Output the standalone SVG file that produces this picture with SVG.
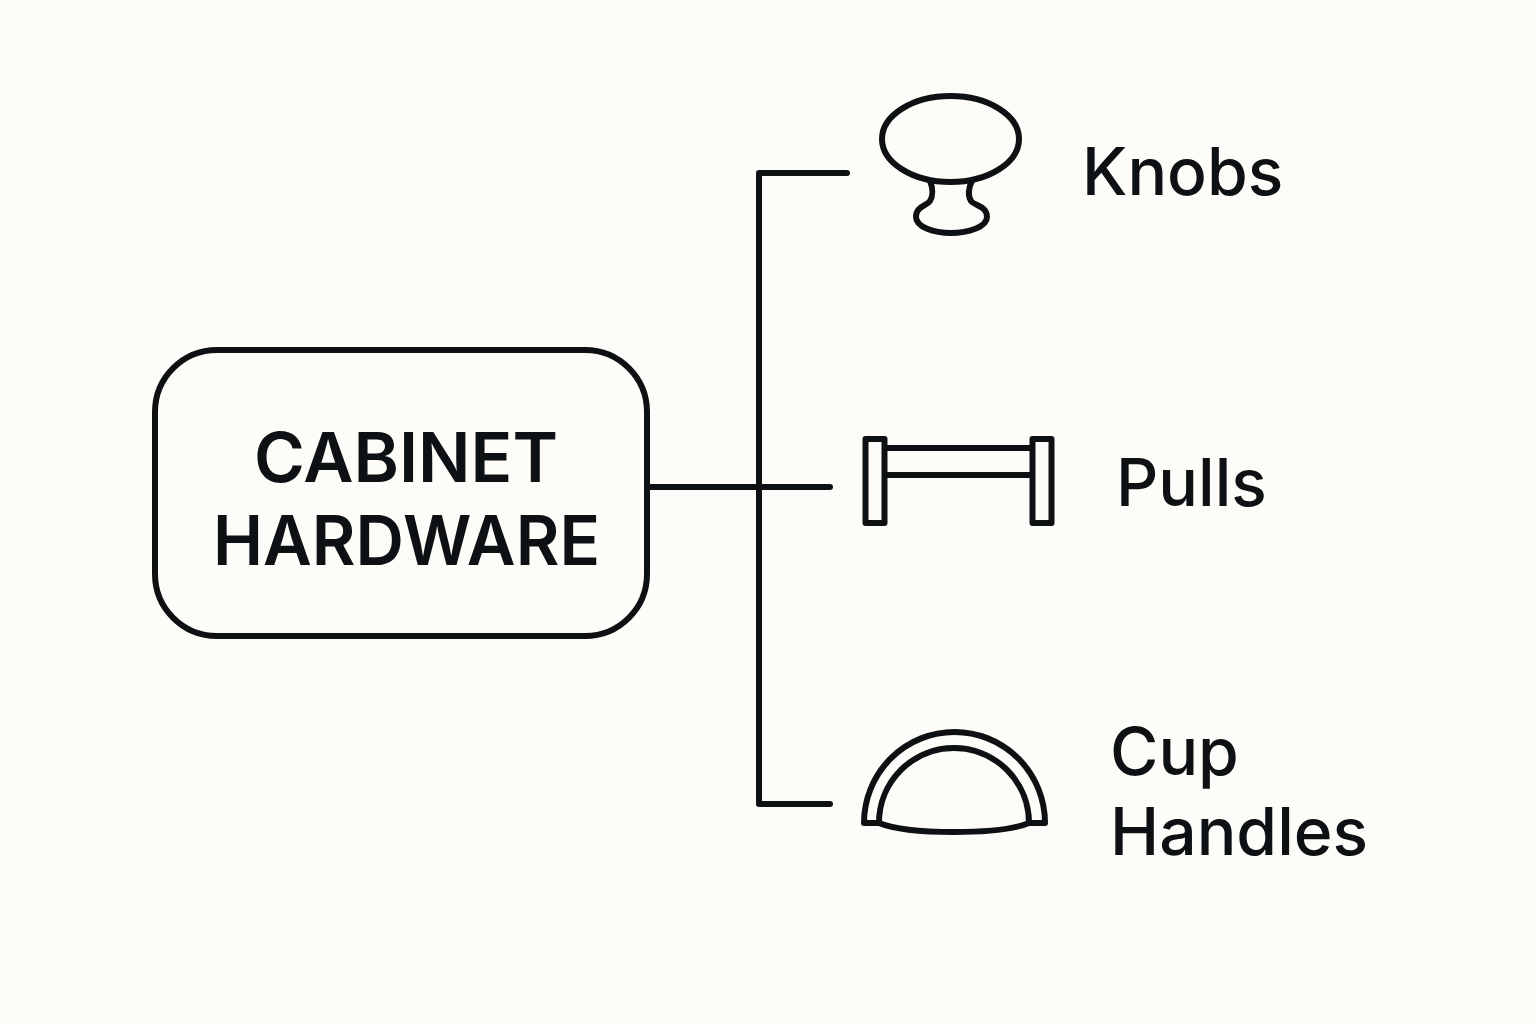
<svg xmlns="http://www.w3.org/2000/svg" width="1536" height="1024" viewBox="0 0 1536 1024">
<style>
.l{fill:none;stroke:#0e1113;stroke-width:6;stroke-linecap:round;stroke-linejoin:round}
.t{font-family:Inter,"Liberation Sans",sans-serif;font-weight:600;fill:#0e1113;stroke:none}
.h{font-size:69px;text-anchor:middle}
.s{font-size:66px;font-weight:500}
</style>
<rect width="1536" height="1024" fill="#fefcf8"/>
<g id="connectors">
<path class="l" d="M650 487H830M847 173H759V804H830"/>
</g>
<g id="root"><rect class="l" x="155" y="350" width="492" height="286" rx="62"/>
<text class="t h" x="406" y="482" textLength="304" lengthAdjust="spacingAndGlyphs">CABINET</text><text class="t h" x="406.500" y="565" textLength="387" lengthAdjust="spacingAndGlyphs">HARDWARE</text></g>
<g id="knobs"><ellipse class="l" cx="950.500" cy="139" rx="68.500" ry="43"/>
<path class="l" d="M930 181C933 188 933 196 930 201C927 206 916 206 916 217C916 227 934 233 951 233C968 233 987 227 987 217C987 206 975 206 971 201C968 196 968 188 972 181"/>
<text class="t s" x="1082" y="195">Knobs</text></g>
<g id="pulls"><rect class="l" x="865.500" y="439" width="19" height="84"/><rect class="l" x="1032.500" y="439" width="19" height="84"/>
<path class="l" d="M885 448H1032M885 475H1032"/>
<text class="t s" x="1116" y="506">Pulls</text></g>
<g id="cup"><path class="l" d="M864 823A90.500 91 0 0 1 1045 823H1029C1000 835 908 835 879 823Z"/>
<path class="l" d="M879 823A75 75 0 0 1 1029 823"/>
<text class="t s" x="1110" y="775">Cup</text><text class="t s" x="1110" y="855">Handles</text></g>
</svg>
